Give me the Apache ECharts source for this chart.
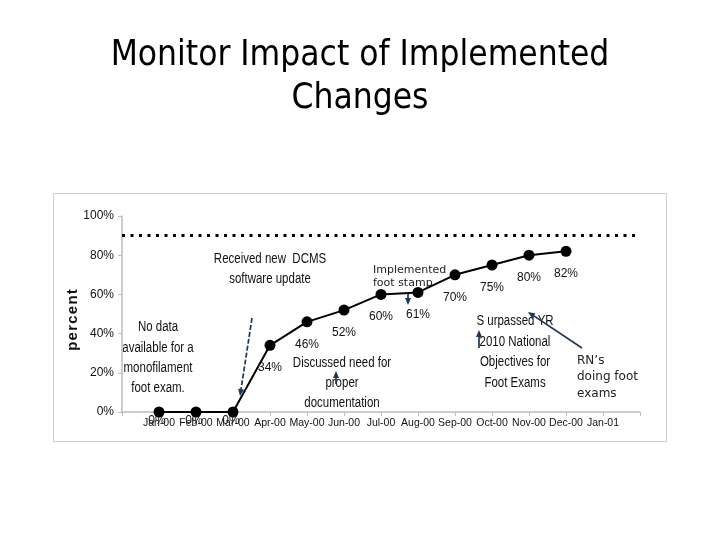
<!DOCTYPE html>
<html><head><meta charset="utf-8">
<script src="https://cdn.jsdelivr.net/npm/echarts@6/dist/echarts.min.js"></script>
<style>html,body{margin:0;padding:0;background:#fff}#c{width:720px;height:540px}</style>
</head><body><div id="c"></div>
<script>
const months = ['Jan-00','Feb-00','Mar-00','Apr-00','May-00','Jun-00','Jul-00','Aug-00','Sep-00','Oct-00','Nov-00','Dec-00','Jan-01'];
const percentValues = [0,0,0,34,46,52,60,61,70,75,80,82];
const yTicks = [0,20,40,60,80,100];
const targetValue = 90;
const titleLines = ['Monitor Impact of Implemented','Changes'];
const yAxisTitle = 'percent';

const chart = echarts.init(document.getElementById('c'));
const navy = '#1d3557';
const arial = 'Liberation Sans, Arial, sans-serif';
const verd = 'DejaVu Sans, Verdana, sans-serif';

function arrow(x1,y1,x2,y2,dashed){
  const ang = Math.atan2(y2-y1,x2-x1);
  const L = 7, W = 3;
  const bx = x2 - L*Math.cos(ang), by = y2 - L*Math.sin(ang);
  const px = -Math.sin(ang)*W, py = Math.cos(ang)*W;
  return [
    {type:'line', shape:{x1:x1,y1:y1,x2:bx,y2:by}, style:{stroke:navy, lineWidth:1.7, lineDash: dashed?[5,2]:null}},
    {type:'polygon', shape:{points:[[x2,y2],[bx+px,by+py],[bx-px,by-py]]}, style:{fill:navy}}
  ];
}
function txt(x,y,text,opts){
  return {type:'text', x:x, y:y, scaleX: opts.scaleX||1, rotation: opts.rotation||0,
    style:{text:text, fill: opts.color||'#111', font: opts.font, textAlign: opts.align||'center', textVerticalAlign:'middle', lineHeight: opts.lh||20}};
}

const graphics = [
  {type:'rect', shape:{x:53.5,y:193.5,width:613,height:248}, style:{fill:null, stroke:'#cfcfcf', lineWidth:1}, z:-1},
  txt(73,320,yAxisTitle.split('').join('\u200A'),{font:'bold 15px '+arial, rotation:Math.PI/2, lh:16}),
  txt(158,358,'No data\navailable for a\nmonofilament\nfoot exam.',{font:'14px '+arial, scaleX:0.82, lh:20.3}),
  txt(270,269,'Received new  DCMS\nsoftware update',{font:'14px '+arial, scaleX:0.82, lh:19.5}),
  txt(342,383,'Discussed need for\nproper\ndocumentation',{font:'14px '+arial, scaleX:0.82, lh:20}),
  txt(515,352,'S urpassed YR\n2010 National\nObjectives for\nFoot Exams',{font:'14px '+arial, scaleX:0.82, lh:20.7}),
  txt(373,277,'Implemented\nfoot stamp',{font:'11px '+verd, align:'left', lh:13, color:'#222'}),
  txt(577,377,'RN\u2019s\ndoing foot\nexams',{font:'12px '+verd, align:'left', lh:16.5, color:'#222'}),
].concat(
  arrow(252,318,240,396,true),
  arrow(408,294,408,305,false),
  arrow(336,384,336,371,false),
  arrow(479,348,479,330,false),
  arrow(582,348,528,312,false)
);

chart.setOption({
  animation:false,
  backgroundColor:'#fff',
  title:{text:titleLines.join('\n'), left:'center', top:29,
    textStyle:{fontFamily:'DejaVu Sans Condensed, DejaVu Sans, sans-serif', fontSize:35, fontWeight:'normal', color:'#000', lineHeight:43}},
  grid:{left:122, right:80, top:216, bottom:128},
  xAxis:{type:'value', min:-1, max:13, interval:1,
    axisLine:{onZero:true, lineStyle:{color:'#bdbdbd', width:1.5}},
    axisTick:{show:true, length:4, lineStyle:{color:'#bdbdbd'}},
    splitLine:{show:false},
    axisLabel:{margin:6, color:'#111', fontFamily:arial, fontSize:10.5,
      formatter: v => (months[v] !== undefined ? months[v] : '')}
  },
  yAxis:{type:'value', min:yTicks[0], max:yTicks[yTicks.length-1], interval:20,
    axisLine:{show:true, onZero:false, lineStyle:{color:'#bdbdbd', width:1.5}},
    axisTick:{show:true, length:4, lineStyle:{color:'#bdbdbd'}},
    splitLine:{show:false},
    axisLabel:{margin:8, color:'#111', fontFamily:arial, fontSize:12, formatter:'{value}%'}
  },
  series:[{
    type:'line',
    data: percentValues.map((v,i) => ({value:[i,v], label: v===0 ? {offset:[-2,-14]} : undefined})),
    symbol:'circle', symbolSize:11,
    itemStyle:{color:'#000'},
    lineStyle:{color:'#000', width:2},
    label:{show:true, position:'bottom', distance:11, color:'#111', fontFamily:arial, fontSize:12,
      formatter: p => p.value[1] + '%'},
    markLine:{silent:true, symbol:'none', label:{show:false},
      lineStyle:{color:'#000', width:3, type:[3,5.5]},
      data:[{yAxis:targetValue}]},
    z:3
  }],
  graphic: graphics
});
</script></body></html>
